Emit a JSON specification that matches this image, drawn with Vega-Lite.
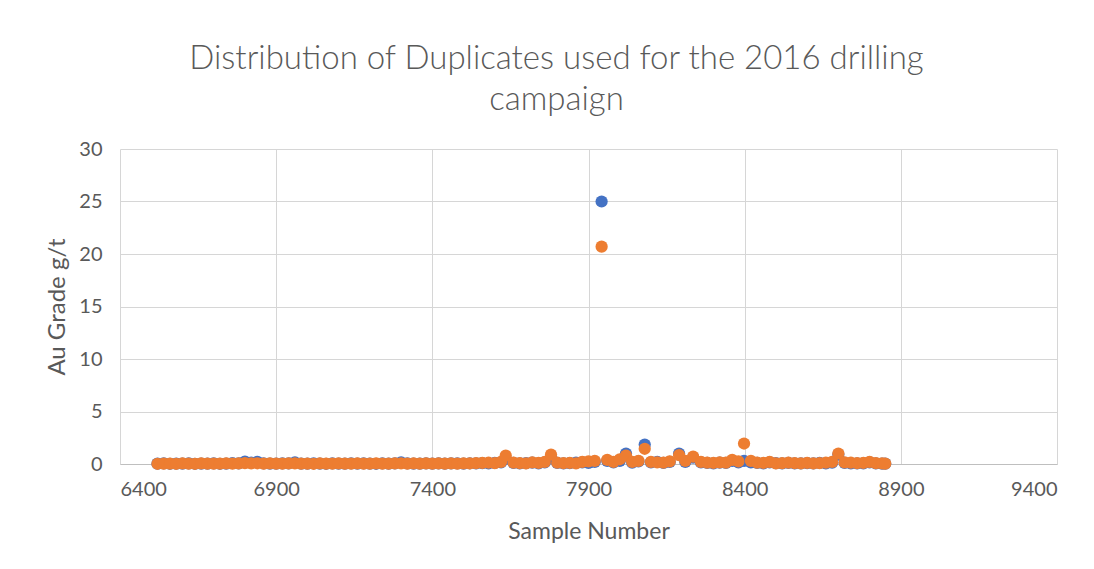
{
  "$schema": "https://vega.github.io/schema/vega-lite/v6.json",
  "autosize": "none",
  "width": 937,
  "height": 315,
  "padding": {"left": 120, "top": 149, "right": 37, "bottom": 105},
  "background": "white",
  "title": {
    "text": ["Distribution of Duplicates used for the 2016 drilling", "campaign"],
    "fontSize": 33,
    "font": "Lato",
    "fontWeight": 300,
    "color": "#595959",
    "lineHeight": 41,
    "anchor": "middle",
    "dx": -32,
    "offset": 22
  },
  "config": {
    "view": {"stroke": null},
    "axis": {
      "labelFont": "Lato",
      "titleFont": "Lato",
      "labelColor": "#595959",
      "titleColor": "#595959",
      "labelFontSize": 20,
      "titleFontWeight": "normal",
      "labelFontWeight": "normal",
      "gridColor": "#d6d6d6",
      "gridWidth": 1,
      "ticks": false,
      "tickSize": 0
    }
  },
  "data": {
    "values": [
      {"s":6520,"a":0.03,"b":0.02},{"s":6540,"a":0.05,"b":0.03},{"s":6560,"a":0.02,"b":0.04},{"s":6580,"a":0.04,"b":0.02},
      {"s":6600,"a":0.03,"b":0.05},{"s":6620,"a":0.06,"b":0.03},{"s":6640,"a":0.02,"b":0.02},{"s":6660,"a":0.04,"b":0.06},
      {"s":6680,"a":0.03,"b":0.03},{"s":6700,"a":0.05,"b":0.04},{"s":6720,"a":0.02,"b":0.03},{"s":6740,"a":0.04,"b":0.05},
      {"s":6760,"a":0.08,"b":0.04},{"s":6780,"a":0.06,"b":0.05},{"s":6800,"a":0.22,"b":0.08},{"s":6820,"a":0.12,"b":0.06},
      {"s":6840,"a":0.2,"b":0.07},{"s":6860,"a":0.05,"b":0.04},{"s":6880,"a":0.03,"b":0.05},{"s":6900,"a":0.04,"b":0.03},
      {"s":6920,"a":0.06,"b":0.04},{"s":6940,"a":0.05,"b":0.06},{"s":6960,"a":0.15,"b":0.05},{"s":6980,"a":0.04,"b":0.03},
      {"s":7000,"a":0.03,"b":0.04},{"s":7020,"a":0.05,"b":0.02},{"s":7040,"a":0.04,"b":0.05},{"s":7060,"a":0.02,"b":0.03},
      {"s":7080,"a":0.05,"b":0.04},{"s":7100,"a":0.03,"b":0.06},{"s":7120,"a":0.04,"b":0.03},{"s":7140,"a":0.06,"b":0.04},
      {"s":7160,"a":0.03,"b":0.05},{"s":7180,"a":0.05,"b":0.03},{"s":7200,"a":0.04,"b":0.04},{"s":7220,"a":0.02,"b":0.05},
      {"s":7240,"a":0.05,"b":0.03},{"s":7260,"a":0.04,"b":0.04},{"s":7280,"a":0.06,"b":0.05},{"s":7300,"a":0.16,"b":0.06},
      {"s":7320,"a":0.05,"b":0.04},{"s":7340,"a":0.03,"b":0.05},{"s":7360,"a":0.04,"b":0.03},{"s":7380,"a":0.06,"b":0.05},
      {"s":7400,"a":0.03,"b":0.04},{"s":7420,"a":0.05,"b":0.06},{"s":7440,"a":0.04,"b":0.03},{"s":7460,"a":0.06,"b":0.05},
      {"s":7480,"a":0.05,"b":0.04},{"s":7500,"a":0.03,"b":0.06},{"s":7520,"a":0.07,"b":0.05},{"s":7540,"a":0.05,"b":0.08},
      {"s":7560,"a":0.08,"b":0.1},{"s":7580,"a":0.06,"b":0.12},{"s":7600,"a":0.1,"b":0.08},{"s":7620,"a":0.15,"b":0.2},
      {"s":7635,"a":0.5,"b":0.8},{"s":7660,"a":0.1,"b":0.12},{"s":7680,"a":0.06,"b":0.08},{"s":7700,"a":0.08,"b":0.05},
      {"s":7720,"a":0.12,"b":0.15},{"s":7740,"a":0.06,"b":0.1},{"s":7760,"a":0.15,"b":0.2},{"s":7780,"a":0.6,"b":0.9},
      {"s":7800,"a":0.1,"b":0.12},{"s":7820,"a":0.06,"b":0.08},{"s":7840,"a":0.08,"b":0.1},{"s":7860,"a":0.12,"b":0.06},
      {"s":7880,"a":0.15,"b":0.2},{"s":7900,"a":0.1,"b":0.25},{"s":7920,"a":0.2,"b":0.3},{"s":7942,"a":25.0,"b":20.7},
      {"s":7960,"a":0.3,"b":0.4},{"s":7980,"a":0.15,"b":0.2},{"s":8000,"a":0.3,"b":0.45},{"s":8020,"a":1.0,"b":0.8},
      {"s":8040,"a":0.12,"b":0.2},{"s":8060,"a":0.25,"b":0.3},{"s":8080,"a":1.85,"b":1.45},{"s":8100,"a":0.15,"b":0.2},
      {"s":8120,"a":0.2,"b":0.15},{"s":8140,"a":0.1,"b":0.12},{"s":8160,"a":0.2,"b":0.25},{"s":8190,"a":1.0,"b":0.85},
      {"s":8210,"a":0.2,"b":0.3},{"s":8235,"a":0.6,"b":0.7},{"s":8260,"a":0.15,"b":0.2},{"s":8280,"a":0.1,"b":0.12},
      {"s":8300,"a":0.06,"b":0.1},{"s":8320,"a":0.12,"b":0.15},{"s":8340,"a":0.1,"b":0.12},{"s":8360,"a":0.3,"b":0.4},
      {"s":8380,"a":0.15,"b":0.25},{"s":8398,"a":0.3,"b":1.95},{"s":8420,"a":0.15,"b":0.3},{"s":8440,"a":0.1,"b":0.12},
      {"s":8460,"a":0.06,"b":0.1},{"s":8480,"a":0.15,"b":0.2},{"s":8500,"a":0.08,"b":0.06},{"s":8520,"a":0.05,"b":0.08},
      {"s":8540,"a":0.1,"b":0.12},{"s":8560,"a":0.06,"b":0.08},{"s":8580,"a":0.05,"b":0.06},{"s":8600,"a":0.08,"b":0.1},
      {"s":8620,"a":0.06,"b":0.05},{"s":8640,"a":0.1,"b":0.08},{"s":8660,"a":0.06,"b":0.12},{"s":8680,"a":0.12,"b":0.2},
      {"s":8700,"a":0.9,"b":1.0},{"s":8720,"a":0.1,"b":0.15},{"s":8740,"a":0.06,"b":0.12},{"s":8760,"a":0.05,"b":0.08},
      {"s":8780,"a":0.06,"b":0.1},{"s":8800,"a":0.15,"b":0.2},{"s":8820,"a":0.06,"b":0.08},{"s":8840,"a":0.04,"b":0.05},
      {"s":8850,"a":0.03,"b":0.04}
    ]
  },
  "encoding": {
    "x": {
      "field": "s",
      "type": "quantitative",
      "title": "Sample Number",
      "scale": {"domain": [6400, 9400], "nice": false, "zero": false},
      "axis": {
        "values": [6400, 6900, 7400, 7900, 8400, 8900, 9400],
        "format": "d",
        "labelPadding": 15,
        "titlePadding": 21,
        "titleFontSize": 23,
        "domainColor": "#bfbfbf",
        "domainWidth": 1
      }
    }
  },
  "layer": [
    {
      "mark": {"type": "point", "filled": true, "opacity": 1, "size": 150, "color": "#4472C4"},
      "encoding": {
        "y": {
          "field": "a",
          "type": "quantitative",
          "title": "Au Grade g/t",
          "scale": {"domain": [0, 30], "nice": false},
          "axis": {"values": [0, 5, 10, 15, 20, 25, 30], "domain": false, "labelPadding": 18, "titlePadding": 9, "titleFontSize": 24}
        }
      }
    },
    {
      "mark": {"type": "point", "filled": true, "opacity": 1, "size": 150, "color": "#ED7D31"},
      "encoding": {
        "y": {"field": "b", "type": "quantitative"}
      }
    }
  ]
}
